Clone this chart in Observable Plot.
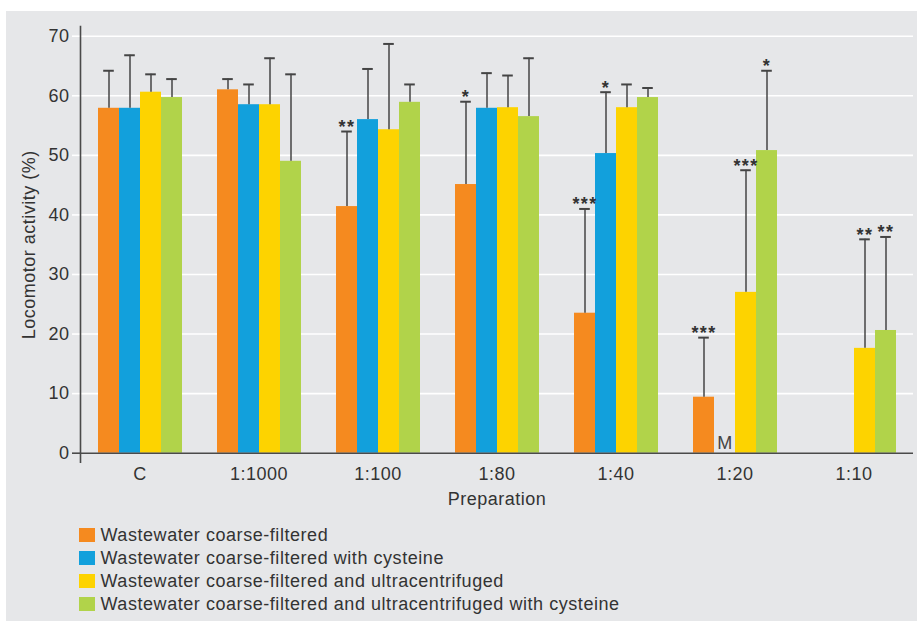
<!DOCTYPE html>
<html>
<head>
<meta charset="utf-8">
<script src="https://cdn.jsdelivr.net/npm/d3@7"></script>
<script src="https://cdn.jsdelivr.net/npm/@observablehq/plot@0.6"></script>
<style>
  html, body { margin: 0; padding: 0; background: #ffffff; }
  body { font-family: "Liberation Sans", Arial, Helvetica, sans-serif; color: #333; }
  #panel { position: absolute; left: 6px; top: 11px; width: 911px; height: 610px; background: #e6e7e9; }
  #chart { position: absolute; left: 0; top: 0; }
  #chart svg text { letter-spacing: 0.5px; }
  #legend { position: absolute; left: 73px; top: 513px; font-size: 18px; letter-spacing: 0.55px; color: #333; }
  .row { display: flex; align-items: center; height: 22.9px; white-space: nowrap; }
  .sw { width: 16px; height: 14px; margin-right: 5.5px; flex: none; }
</style>
</head>
<body>
<div id="panel">
  <div id="chart"></div>
  <div id="legend"></div>
</div>
<script>
// ---- data ----
const preparations = ["C", "1:1000", "1:100", "1:80", "1:40", "1:20", "1:10"];
const seriesNames = [
  "Wastewater coarse-filtered",
  "Wastewater coarse-filtered with cysteine",
  "Wastewater coarse-filtered and ultracentrifuged",
  "Wastewater coarse-filtered and ultracentrifuged with cysteine"
];
const seriesColors = ["#f58a1f", "#12a0dc", "#fdd300", "#b1d34a"];

// mean locomotor activity (%) per preparation
const coarseMeans        = [57.9, 61.0, 41.4, 45.1, 23.5, 9.4, null];
const coarseCysMeans     = [57.9, 58.5, 56.0, 57.9, 50.3, null, null];
const ultraMeans         = [60.6, 58.5, 54.3, 58.0, 58.0, 27.0, 17.6];
const ultraCysMeans      = [59.7, 49.0, 58.9, 56.5, 59.7, 50.8, 20.6];

// top of error bar (mean + SD)
const coarseUpper        = [64.2, 62.8, 54.0, 59.0, 41.0, 19.4, null];
const coarseCysUpper     = [66.8, 61.9, 64.5, 63.8, 60.6, null, null];
const ultraUpper         = [63.6, 66.3, 68.7, 63.4, 61.9, 47.5, 35.9];
const ultraCysUpper      = [62.8, 63.6, 61.9, 66.3, 61.3, 64.2, 36.3];

// significance markers
const coarseSig          = ["", "", "**", "*", "***", "***", ""];
const coarseCysSig       = ["", "", "", "", "*", "", ""];
const ultraSig           = ["", "", "", "", "", "***", "**"];
const ultraCysSig        = ["", "", "", "", "", "*", "**"];

// annotation for missing value (M)
const missingPrep = ["1:20"];
const missingSeries = [seriesNames[1]];
const missingText = ["M"];

const yTicks = [0, 10, 20, 30, 40, 50, 60, 70];

// ---- build table ----
const means = [coarseMeans, coarseCysMeans, ultraMeans, ultraCysMeans];
const uppers = [coarseUpper, coarseCysUpper, ultraUpper, ultraCysUpper];
const sigs = [coarseSig, coarseCysSig, ultraSig, ultraCysSig];
const data = [];
preparations.forEach((p, i) => {
  seriesNames.forEach((s, j) => {
    const m = means[j][i];
    if (m != null) data.push({prep: p, series: s, mean: m, upper: uppers[j][i], sig: sigs[j][i]});
  });
});
const missing = missingPrep.map((p, i) => ({prep: p, series: missingSeries[i], text: missingText[i]}));

const ink = "#333";
const axisInk = "#4a4a4a";

const chart = Plot.plot({
  width: 911,
  height: 500,
  marginLeft: 74,
  marginRight: 4,
  marginTop: 24.7,
  marginBottom: 58.3,
  style: {background: "transparent", fontFamily: "'Liberation Sans', Arial, Helvetica, sans-serif", fontSize: "18px", color: ink, overflow: "visible"},
  fx: {domain: preparations, paddingInner: 0, paddingOuter: 0},
  x: {domain: seriesNames, paddingInner: 0, paddingOuter: 0.767, axis: null},
  y: {domain: [0, 70], axis: null},
  color: {domain: seriesNames, range: seriesColors},
  marks: [
    Plot.gridY(yTicks.slice(1), {stroke: "white", strokeOpacity: 1, strokeWidth: 1.6}),
    Plot.barY(data, {fx: "prep", x: "series", y: "mean", fill: "series"}),
    Plot.ruleX(data, {fx: "prep", x: "series", y1: "mean", y2: "upper", stroke: "#444", strokeWidth: 1.5}),
    Plot.tickY(data, {fx: "prep", x: "series", y: "upper", stroke: "#444", strokeWidth: 2, insetLeft: 5.2, insetRight: 5.2}),
    Plot.text(data.filter(d => d.sig), {fx: "prep", x: "series", y: "upper", text: "sig", lineAnchor: "bottom", dy: 1.5, fontWeight: "bold", fontSize: 18, fill: "#333"}),
    Plot.text(missing, {fx: "prep", x: "series", y: () => 0, text: "text", lineAnchor: "bottom", dy: -4.5, fontSize: 18, fill: "#444"}),
    Plot.ruleY([0], {stroke: axisInk, strokeWidth: 1.6}),
    Plot.axisY({ticks: yTicks.slice(1), tickSize: 8, tickPadding: 3, stroke: "white", strokeWidth: 1.6, fill: ink, fontSize: 18,
      label: "Locomotor activity (%)", labelAnchor: "center", labelOffset: 58, labelArrow: "none"}),
    Plot.axisY({ticks: [0], tickSize: 8, tickPadding: 3, stroke: axisInk, strokeWidth: 1.6, fill: ink, fontSize: 18, label: null}),
    Plot.frame({anchor: "left", facetAnchor: "left", stroke: axisInk, strokeWidth: 1.6, insetTop: -9.7, insetBottom: -9}),
    Plot.axisFx({anchor: "bottom", tickSize: 0, tickPadding: 14, fontSize: 18, fill: ink,
      label: "Preparation", labelAnchor: "center", labelOffset: 52, labelArrow: "none"})
  ]
});
document.getElementById("chart").appendChild(chart);

// star markers spacing
d3.select(chart).selectAll("text").filter(function() { return /^\*+$/.test(this.textContent); })
  .style("letter-spacing", "1.4px");

// legend
const legend = d3.select("#legend");
seriesNames.forEach((s, i) => {
  const row = legend.append("div").attr("class", "row");
  row.append("div").attr("class", "sw").style("background", seriesColors[i]);
  row.append("span").text(s);
});
</script>
</body>
</html>
